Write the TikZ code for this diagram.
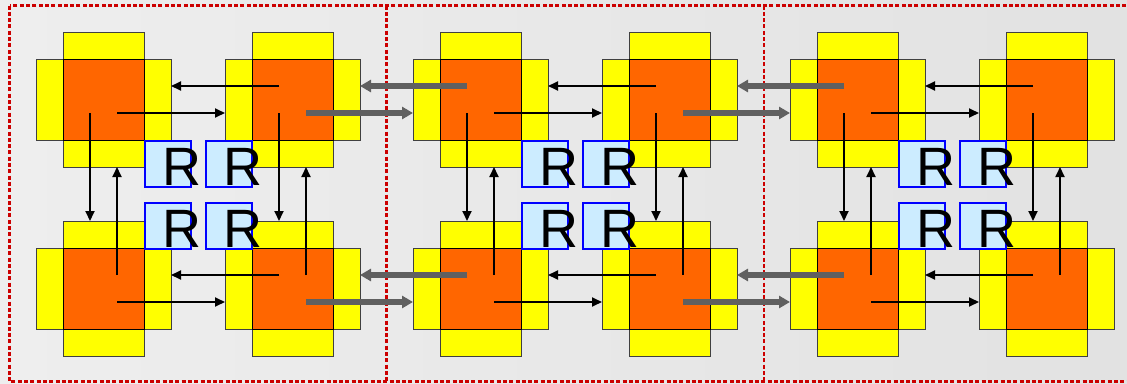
\documentclass[tikz,border=0pt]{standalone}
\usepackage{fontspec}
\setmainfont{Liberation Sans}
\usetikzlibrary{arrows.meta,calc}
\definecolor{bgL}{RGB}{238,238,238}
\definecolor{bgR}{RGB}{226,226,226}
\definecolor{dred}{RGB}{204,0,0}
\definecolor{yel}{RGB}{255,255,0}
\definecolor{org}{RGB}{255,102,0}
\definecolor{rblue}{RGB}{0,0,255}
\definecolor{rfill}{RGB}{204,236,255}
\definecolor{garr}{RGB}{96,96,96}
\newcommand{\rfont}{\fontsize{54}{54}\selectfont}
\tikzset{
  yarm/.style={draw=black!75, fill=yel, line width=1pt, inner sep=0pt, outer sep=0pt},
  ocore/.style={draw=black, fill=org, line width=1pt, inner sep=0pt, outer sep=0pt, minimum width=81pt, minimum height=81pt},
  blk/.style={line width=1.8pt, -{Triangle[length=10pt,width=9pt]}},
  gry/.style={line width=5.5pt, draw=garr, -{Triangle[length=11pt,width=12pt]}, fill=garr},
  rbox/.style={draw=rblue, fill=rfill, line width=2pt, minimum width=46pt, minimum height=46pt, inner sep=0pt, outer sep=0pt},
  rtext/.style={anchor=base west, inner sep=0pt, outer sep=0pt, font=\rfont},
  panel/.style={draw=dred, line width=2.5pt, dash pattern=on 4pt off 2.3pt}
}
\newcommand{\mytile}[3]{%
  \node[yarm, minimum width=81pt, minimum height=135pt] (#1-v) at (#2,#3) {};
  \node[yarm, minimum width=135pt, minimum height=81pt] (#1-h) at (#2,#3) {};
  \node[ocore] (#1) at (#2,#3) {};
  \coordinate (#1-nw) at ($(#1.center)+(-13.5,-13.5)$);
  \coordinate (#1-ne) at ($(#1.center)+(13.5,-13.5)$);
  \coordinate (#1-sw) at ($(#1.center)+(-13.5,13.5)$);
  \coordinate (#1-se) at ($(#1.center)+(13.5,13.5)$);
}
\begin{document}
\begin{tikzpicture}[x=1pt,y=-1pt]
\useasboundingbox (0,0) rectangle (1127,383);
\shade[left color=bgL, right color=bgR] (0,0) rectangle (1127,383);
% panels
\draw[panel] (9.5,5.5) rectangle (1140,381.5);
\draw[panel] (386.5,5.5) -- (386.5,381.5);
\draw[panel] (764,5.5) -- (764,381.5);
% tiles
\foreach \p/\dx in {1/0,2/377,3/754}{
  \mytile{t\p-a}{103.5+\dx}{99.5}
  \mytile{t\p-b}{292.5+\dx}{99.5}
  \mytile{t\p-c}{103.5+\dx}{288.5}
  \mytile{t\p-d}{292.5+\dx}{288.5}
}
% black arrows
\foreach \p in {1,2,3}{
  \draw[blk] (t\p-b-nw) -- (t\p-b-nw -| t\p-a-h.east);
  \draw[blk] (t\p-a-se) -- (t\p-a-se -| t\p-b-h.west);
  \draw[blk] (t\p-d-nw) -- (t\p-d-nw -| t\p-c-h.east);
  \draw[blk] (t\p-c-se) -- (t\p-c-se -| t\p-d-h.west);
  \draw[blk] (t\p-a-sw) -- (t\p-a-sw |- t\p-c-v.north);
  \draw[blk] (t\p-c-ne) -- (t\p-c-ne |- t\p-a-v.south);
  \draw[blk] (t\p-b-sw) -- (t\p-b-sw |- t\p-d-v.north);
  \draw[blk] (t\p-d-ne) -- (t\p-d-ne |- t\p-b-v.south);
}
% gray arrows between panels
\foreach \p/\q in {1/2,2/3}{
  \draw[gry] (t\q-a-nw) -- (t\q-a-nw -| t\p-b-h.east);
  \draw[gry] (t\p-b-se) -- (t\p-b-se -| t\q-a-h.west);
  \draw[gry] (t\q-c-nw) -- (t\q-c-nw -| t\p-d-h.east);
  \draw[gry] (t\p-d-se) -- (t\p-d-se -| t\q-c-h.west);
}
% R boxes
\foreach \p/\dx in {1/0,2/377,3/754}{
  \node[rbox] (r\p-1) at (168+\dx,164) {};
  \node[rbox] (r\p-2) at (229+\dx,164) {};
  \node[rbox] (r\p-3) at (168+\dx,226) {};
  \node[rbox] (r\p-4) at (229+\dx,226) {};
  \foreach \k in {1,2,3,4}{
    \node[rtext] (r\p-\k t) at ($(r\p-\k.south)+(-5.5,-1.5)$) {R};
  }
}
\end{tikzpicture}
\end{document}
